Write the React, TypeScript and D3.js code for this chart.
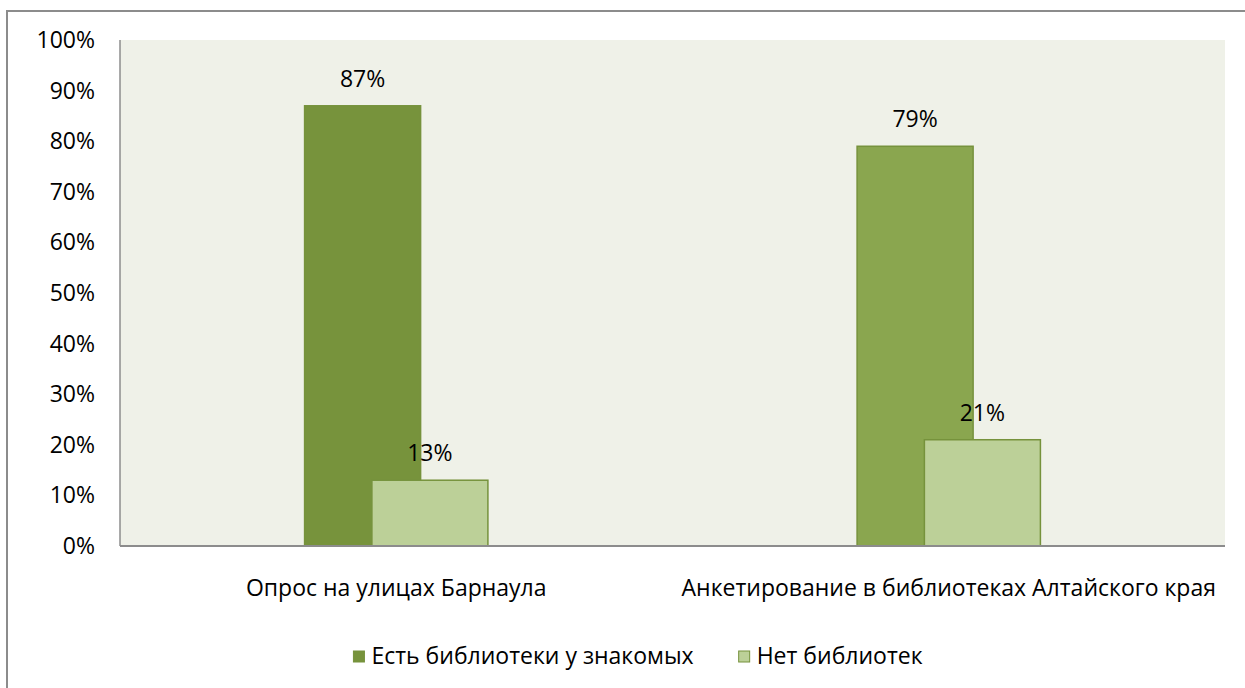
import React, { useRef, useEffect } from "react";
import * as d3 from "d3";

const categories = ["Опрос на улицах Барнаула", "Анкетирование в библиотеках Алтайского края"];
const seriesNames = ["Есть библиотеки у знакомых", "Нет библиотек"];
const hasLibraries = [0.87, 0.79];
const noLibraries = [0.13, 0.21];
const yTicks = [0, 0.1, 0.2, 0.3, 0.4, 0.5, 0.6, 0.7, 0.8, 0.9, 1];

const darkFills = ["#77933c", "#8aa64f"];
const lightFill = "#bcd098";
const barStroke = "#76923c";
const FONT = "'Open Sans', sans-serif";
const FS = "23px";

const App = () => {
  const ref = useRef<SVGSVGElement>(null);

  useEffect(() => {
    const svg = d3.select(ref.current);
    svg.selectAll("*").remove();

    const width = 1245;
    const height = 688;
    const left = 120, right = 1225, top = 40, bottom = 546;

    svg.attr("width", width).attr("height", height);

    svg.append("rect")
      .attr("x", 7).attr("y", 11)
      .attr("width", 1260).attr("height", 700)
      .attr("fill", "#fff")
      .attr("stroke", "#8c8c8c")
      .attr("stroke-width", 2);

    const x = d3.scaleBand().domain(categories).range([left, right]);
    const y = d3.scaleLinear().domain([0, 1]).range([bottom, top]);

    svg.append("rect")
      .attr("x", left).attr("y", top)
      .attr("width", right - left).attr("height", bottom - top)
      .attr("fill", "#eff1e8");

    // y labels
    svg.append("g").selectAll("text")
      .data(yTicks)
      .enter()
      .append("text")
      .attr("x", 95)
      .attr("y", (d) => y(d))
      .attr("dy", "0.35em")
      .attr("text-anchor", "end")
      .attr("font-family", FONT)
      .attr("font-size", FS)
      .attr("fill", "#000")
      .text((d) => d3.format(".0%")(d));

    const barW = x.bandwidth() * 0.21;
    const shift = barW * 0.58;

    const series = [
      { values: hasLibraries, fill: (i: number) => darkFills[i], dx: -shift / 2 },
      { values: noLibraries, fill: () => lightFill, dx: shift / 2 },
    ];

    series.forEach((s) => {
      const g = svg.append("g");
      g.selectAll("rect")
        .data(s.values)
        .enter()
        .append("rect")
        .attr("x", (d, i) => x(categories[i])! + x.bandwidth() / 2 + s.dx - barW / 2)
        .attr("y", (d) => y(d))
        .attr("width", barW)
        .attr("height", (d) => bottom - y(d))
        .attr("fill", (d, i) => s.fill(i))
        .attr("stroke", barStroke)
        .attr("stroke-width", 1.5);

      g.selectAll("text")
        .data(s.values)
        .enter()
        .append("text")
        .attr("x", (d, i) => x(categories[i])! + x.bandwidth() / 2 + s.dx)
        .attr("y", (d) => y(d) - 19)
        .attr("text-anchor", "middle")
        .attr("font-family", FONT)
        .attr("font-size", FS)
        .attr("fill", "#000")
        .text((d) => d3.format(".0%")(d));
    });

    // axes lines
    svg.append("line")
      .attr("x1", left).attr("x2", left)
      .attr("y1", top).attr("y2", bottom)
      .attr("stroke", "#8c8c8c").attr("stroke-width", 1.5);
    svg.append("line")
      .attr("x1", left).attr("x2", right)
      .attr("y1", bottom).attr("y2", bottom)
      .attr("stroke", "#8c8c8c").attr("stroke-width", 2);

    // category labels
    svg.append("g").selectAll("text")
      .data(categories)
      .enter()
      .append("text")
      .attr("x", (d) => x(d)! + x.bandwidth() / 2)
      .attr("y", 596)
      .attr("text-anchor", "middle")
      .attr("font-family", FONT)
      .attr("font-size", FS)
      .attr("fill", "#000")
      .text((d) => d);

    // legend
    const legend = svg.append("g");
    let lx = 0;
    seriesNames.forEach((name, i) => {
      const item = legend.append("g").attr("transform", `translate(${lx},0)`);
      item.append("rect")
        .attr("x", 0).attr("y", 651)
        .attr("width", 11).attr("height", 11)
        .attr("fill", i === 0 ? darkFills[0] : lightFill)
        .attr("stroke", barStroke)
        .attr("stroke-width", 1);
      const t = item.append("text")
        .attr("x", 18).attr("y", 664)
        .attr("font-family", FONT)
        .attr("font-size", FS)
        .attr("fill", "#000")
        .text(name);
      const w = (t.node() as SVGTextElement).getComputedTextLength();
      lx += 18 + w + 45;
    });
    const total = lx - 45;
    legend.attr("transform", `translate(${638 - total / 2},0)`);
  }, []);

  return (
    <svg ref={ref} style={{ position: "absolute", left: 0, top: 0 }}></svg>
  );
};

export default App;
